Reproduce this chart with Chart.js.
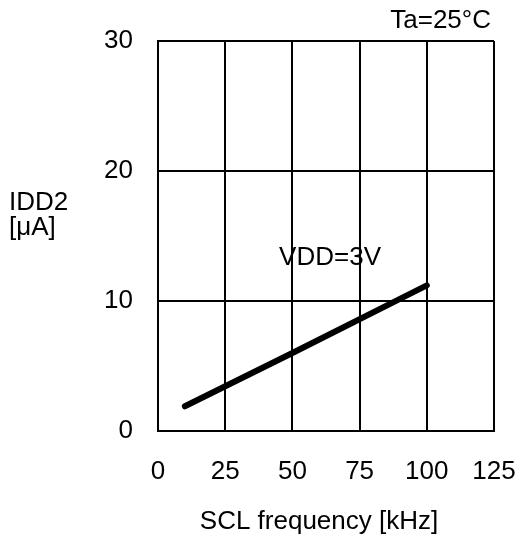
<!DOCTYPE html>
<html>
<head>
<meta charset="utf-8">
<script src="https://cdn.jsdelivr.net/npm/chart.js@4.4.1/dist/chart.umd.min.js"></script>
<style>
  html, body { margin: 0; padding: 0; background: #fff; }
  #wrap { width: 520px; height: 537px; }
</style>
</head>
<body>
<div id="wrap"><canvas id="chart" width="520" height="537"></canvas></div>
<script>
// data
const freqKHz = [10, 50, 100];
const idd2 = [1.9, 6.0, 11.2];
const xTicks = [0, 25, 50, 75, 100, 125];
const yTicks = [0, 10, 20, 30];
const seriesLabel = 'VDD=3V';
const tempLabel = 'Ta=25\u00b0C';

const FONT = '"Liberation Sans", Arial, sans-serif';
const SIZE = 26;

// text labels drawn on top of the chart
const labelsPlugin = {
    id: 'labels',
    afterDraw(chart) {
        const ctx = chart.ctx;
        const xs = chart.scales.x;
        const ys = chart.scales.y;
        ctx.save();
        ctx.fillStyle = '#000';
        ctx.font = SIZE + 'px ' + FONT;
        ctx.textBaseline = 'middle';

        // series label
        ctx.textAlign = 'center';
        ctx.fillText(seriesLabel, xs.getPixelForValue(64), ys.getPixelForValue(13.3));

        // temperature, top right
        ctx.textAlign = 'right';
        ctx.fillText(tempLabel, 491, 21);

        // y axis title
        ctx.textAlign = 'left';
        ctx.fillText('IDD2', 9, 203);
        ctx.fillText('[\u03bcA]', 9, 228);

        // x axis title
        ctx.textAlign = 'center';
        ctx.fillText('SCL frequency [kHz]', 319, 522);
        ctx.restore();
    }
};

new Chart(document.getElementById('chart'), {
    type: 'scatter',
    data: {
        datasets: [{
            label: seriesLabel,
            data: freqKHz.map((f, i) => ({ x: f, y: idd2[i] })),
            showLine: true,
            borderColor: '#000',
            borderWidth: 6,
            borderCapStyle: 'round',
            pointRadius: 0,
            tension: 0
        }]
    },
    options: {
        responsive: false,
        animation: false,
        layout: {
            padding: { left: 0, top: 41, right: 26, bottom: 0 }
        },
        plugins: {
            legend: { display: false },
            tooltip: { enabled: false }
        },
        scales: {
            x: {
                type: 'linear',
                min: xTicks[0],
                max: xTicks[xTicks.length - 1],
                afterBuildTicks: (scale) => {
                    scale.ticks = xTicks.map(v => ({ value: v }));
                },
                afterFit: (scale) => {
                    scale.height = 106;
                    // labels may overhang, keep plot edges fixed
                    scale.paddingLeft = 0;
                    scale.paddingRight = 0;
                },
                grid: { color: '#000', lineWidth: 2, drawTicks: false },
                border: { color: '#000', width: 2 },
                ticks: {
                    color: '#000',
                    padding: 25,
                    maxRotation: 0,
                    font: { family: FONT, size: SIZE }
                }
            },
            y: {
                type: 'linear',
                min: yTicks[0],
                max: yTicks[yTicks.length - 1],
                afterBuildTicks: (scale) => {
                    scale.ticks = yTicks.map(v => ({ value: v }));
                },
                afterFit: (scale) => {
                    scale.width = 158;
                    scale.paddingTop = 0;
                    scale.paddingBottom = 0;
                },
                grid: { color: '#000', lineWidth: 2, drawTicks: false },
                border: { color: '#000', width: 2 },
                ticks: {
                    color: '#000',
                    padding: 25,
                    font: { family: FONT, size: SIZE }
                }
            }
        }
    },
    plugins: [labelsPlugin]
});
</script>
</body>
</html>
